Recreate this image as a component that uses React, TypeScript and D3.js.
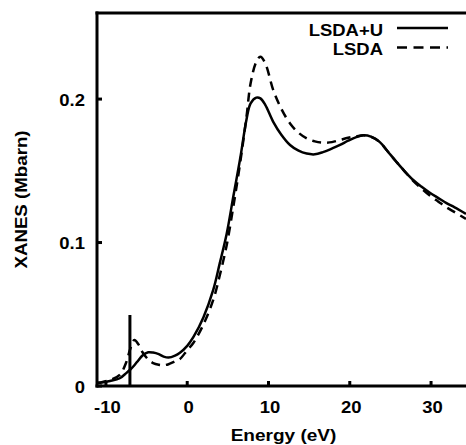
import * as React from 'react';
import * as d3 from 'd3';

// energies (eV) shared by both spectra
const energy = [-11, -10.7, -9.5, -8.3, -7.5, -7.0, -6.5, -6.0, -5.5, -4.8, -4.2, -3.5, -2.9, -2.3, -1.5, -0.9,
  0, 0.75, 2, 3.2, 4, 4.85, 5.7, 6.5, 7.3, 7.8, 8.5, 9.0, 9.6, 10.6, 11.6, 12.65, 13.7, 14.7, 15.7, 16.7,
  17.8, 18.8, 19.8, 20.8, 21.7, 22.6, 23.7, 24.6, 25.7, 26.7, 27.8, 28.8, 29.9, 30.9, 31.9, 32.9, 34.3];

const lsdaU = [0.0022, 0.0023, 0.0035, 0.0054, 0.009, 0.0115, 0.0145, 0.018, 0.0213, 0.0235, 0.0233, 0.0222,
  0.0205, 0.0198, 0.0212, 0.0232, 0.028, 0.034, 0.048, 0.067, 0.0855, 0.106, 0.133, 0.158, 0.186, 0.197,
  0.201, 0.2005, 0.196, 0.184, 0.175, 0.168, 0.164, 0.162, 0.1615, 0.163, 0.1655, 0.168, 0.171, 0.1735,
  0.1747, 0.1738, 0.17, 0.164, 0.1565, 0.15, 0.1436, 0.139, 0.1345, 0.131, 0.1275, 0.1245, 0.12];

const lsda = [0.0022, 0.0025, 0.0042, 0.0078, 0.0165, 0.026, 0.032, 0.029, 0.0235, 0.0185, 0.016, 0.0148,
  0.0145, 0.0152, 0.0172, 0.0188, 0.025, 0.03, 0.043, 0.06, 0.077, 0.098, 0.126, 0.155, 0.188, 0.211,
  0.226, 0.2295, 0.225, 0.206, 0.193, 0.183, 0.1765, 0.1726, 0.1705, 0.1696, 0.17, 0.1715, 0.173, 0.174,
  0.1747, 0.1738, 0.17, 0.164, 0.1565, 0.15, 0.143, 0.1378, 0.1325, 0.1285, 0.1245, 0.1212, 0.1165];

// the sharp edge line
const spikeEnergy = -7.05;
const spikeHeight = 0.0495;

const xTicks = [-10, 0, 10, 20, 30];
const yTicks = [0, 0.1, 0.2];
const yTickLabels = ['0', '0.1', '0.2'];

const legend = [
  { name: 'LSDA+U', dash: null },
  { name: 'LSDA', dash: '10,6.5' },
];

const W = 466, H = 445;
const left = 97, right = 466, top = 13, bottom = 386;
const font = '"Liberation Sans", Arial, Helvetica, sans-serif';

function Label(props: { x: number; y: number; anchor: string; size: number; rotate?: number; children: any }) {
  const rot = props.rotate ? ` rotate(${props.rotate})` : '';
  return (
    <g transform={`translate(${props.x},${props.y})${rot} scale(1.12,1)`}>
      <text x={0} y={0} textAnchor={props.anchor} fontSize={props.size} fontWeight="bold"
        fontFamily={font} fill="#000">{props.children}</text>
    </g>
  );
}

export default function App() {
  const x = d3.scaleLinear().domain([-11.1, 34.3]).range([left, right]);
  const y = d3.scaleLinear().domain([0, 0.26]).range([bottom, top]);

  const line = d3.line<number>()
    .x((_, i) => x(energy[i]))
    .y(d => y(d))
    .curve(d3.curveCatmullRom.alpha(0.5));

  return (
    <svg width={W} height={H} style={{ position: 'absolute', left: 0, top: 0, background: '#fff' }}>
      <defs>
        <clipPath id="plot">
          <rect x={left} y={top} width={right - left} height={bottom - top} />
        </clipPath>
      </defs>

      <g clipPath="url(#plot)" fill="none" stroke="#000" strokeWidth={2.5}>
        <path d={line(lsda) || ''} strokeDasharray="9,6" />
        <path d={line(lsdaU) || ''} />
      </g>
      <line x1={x(spikeEnergy)} x2={x(spikeEnergy)} y1={y(0)} y2={y(spikeHeight)} stroke="#000" strokeWidth={3} />

      {/* frame */}
      <g stroke="#000" strokeWidth={3}>
        <line x1={left} x2={left} y1={top - 1.5} y2={bottom + 1.5} />
        <line x1={left - 1.5} x2={W} y1={bottom} y2={bottom} />
        <line x1={left - 1.5} x2={W} y1={top} y2={top} />
        {xTicks.map(t => <line key={'x' + t} x1={x(t)} x2={x(t)} y1={bottom} y2={bottom - 5} />)}
        {yTicks.map(t => <line key={'y' + t} x1={left} x2={left + 5} y1={y(t)} y2={y(t)} />)}
      </g>

      {xTicks.map(t => (
        <Label key={'xl' + t} x={x(t) + 1.5} y={bottom + 27} anchor="middle" size={16.5}>{String(t)}</Label>
      ))}
      {yTicks.map((t, i) => (
        <Label key={'yl' + t} x={85} y={y(t) + 6.5} anchor="end" size={16.5}>{yTickLabels[i]}</Label>
      ))}

      <Label x={(left + right) / 2 + 2} y={441} anchor="middle" size={17}>Energy (eV)</Label>
      <Label x={27} y={(top + bottom) / 2} anchor="middle" size={16.7} rotate={-90}>XANES (Mbarn)</Label>

      {legend.map((l, i) => (
        <g key={l.name}>
          <Label x={383} y={35.5 + i * 19.5} anchor="end" size={16.5}>{l.name}</Label>
          <line x1={397} x2={448} y1={28 + i * 19.5} y2={28 + i * 19.5} stroke="#000" strokeWidth={2.5}
            strokeDasharray={l.dash || undefined} />
        </g>
      ))}
    </svg>
  );
}
